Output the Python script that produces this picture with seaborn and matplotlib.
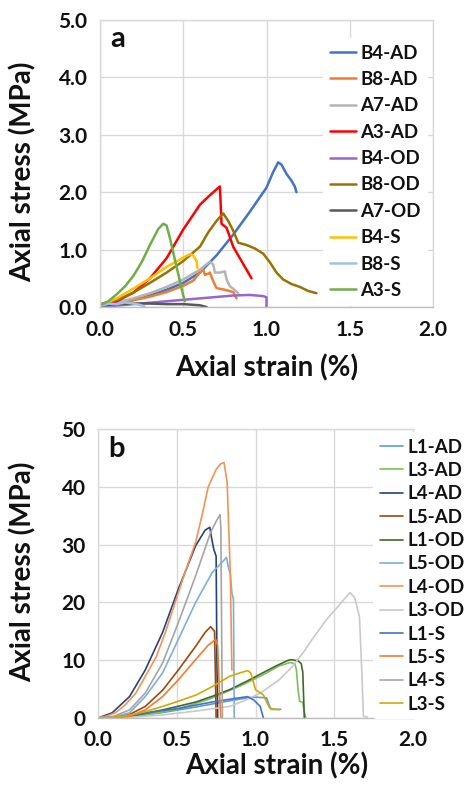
import matplotlib
matplotlib.use("Agg")
import matplotlib.pyplot as plt
import seaborn as sns
import pandas as pd

# ---------------- Panel a data (strain %, stress MPa) ----------------
a_names = ["B4-AD", "B8-AD", "A7-AD", "A3-AD", "B4-OD", "B8-OD", "A7-OD", "B4-S", "B8-S", "A3-S"]
a_colors = ["#4472C4", "#ED7D31", "#B4B4B4", "#FF0000", "#9966CC", "#997300", "#595959", "#FFC000", "#9DC3E6", "#70AD47"]

b4ad_x = [0, 0.1, 0.2, 0.3, 0.4, 0.5, 0.6, 0.7, 0.8, 0.9, 1.0, 1.04, 1.07, 1.09, 1.12, 1.15, 1.17, 1.18]
b4ad_y = [0.02, 0.06, 0.12, 0.2, 0.3, 0.42, 0.6, 0.9, 1.26, 1.66, 2.08, 2.35, 2.52, 2.48, 2.32, 2.2, 2.1, 2.0]
b8ad_x = [0, 0.1, 0.2, 0.3, 0.4, 0.5, 0.56, 0.6, 0.62, 0.63, 0.65, 0.66, 0.68, 0.7, 0.75, 0.8, 0.82]
b8ad_y = [0.03, 0.07, 0.12, 0.18, 0.26, 0.37, 0.46, 0.6, 0.66, 0.56, 0.58, 0.6, 0.45, 0.33, 0.3, 0.26, 0.15]
a7ad_x = [0, 0.1, 0.2, 0.3, 0.4, 0.5, 0.6, 0.66, 0.68, 0.69, 0.72, 0.75, 0.76, 0.78, 0.8, 0.83]
a7ad_y = [0.02, 0.08, 0.15, 0.24, 0.35, 0.48, 0.65, 0.79, 0.74, 0.6, 0.6, 0.62, 0.48, 0.36, 0.32, 0.24]
a3ad_x = [0, 0.1, 0.2, 0.3, 0.4, 0.5, 0.6, 0.65, 0.7, 0.72, 0.73, 0.76, 0.8, 0.86, 0.91]
a3ad_y = [0.02, 0.1, 0.25, 0.5, 0.85, 1.35, 1.78, 1.92, 2.05, 2.1, 1.45, 1.38, 1.05, 0.75, 0.5]
b4od_x = [0, 0.2, 0.4, 0.6, 0.8, 0.9, 0.98, 1.0, 1.0]
b4od_y = [0.0, 0.05, 0.1, 0.15, 0.2, 0.21, 0.19, 0.17, 0.0]
b8od_x = [0, 0.1, 0.2, 0.3, 0.4, 0.5, 0.6, 0.65, 0.7, 0.74, 0.77, 0.8, 0.83, 0.88, 0.93, 0.98, 1.02, 1.06, 1.1, 1.15, 1.2, 1.25, 1.3]
b8od_y = [0.05, 0.12, 0.25, 0.42, 0.6, 0.8, 1.05, 1.3, 1.5, 1.63, 1.5, 1.33, 1.12, 1.08, 1.02, 0.93, 0.78, 0.6, 0.48, 0.4, 0.35, 0.28, 0.24]
a7od_x = [0, 0.1, 0.2, 0.3, 0.4, 0.5, 0.6, 0.64]
a7od_y = [0.03, 0.05, 0.06, 0.06, 0.05, 0.05, 0.03, 0.0]
b4s_x = [0, 0.1, 0.2, 0.3, 0.4, 0.5, 0.54, 0.56, 0.58, 0.585]
b4s_y = [0.03, 0.15, 0.32, 0.5, 0.7, 0.86, 0.92, 0.9, 0.8, 0.68]
b8s_x = [0, 0.05, 0.1, 0.15, 0.2, 0.25, 0.27]
b8s_y = [0.02, 0.06, 0.05, 0.08, 0.06, 0.03, 0.0]
a3s_x = [0, 0.05, 0.1, 0.15, 0.2, 0.25, 0.3, 0.35, 0.38, 0.4, 0.42, 0.45, 0.48, 0.5, 0.51]
a3s_y = [0.03, 0.1, 0.22, 0.36, 0.54, 0.78, 1.08, 1.36, 1.45, 1.42, 1.2, 0.82, 0.45, 0.2, 0.1]

a_x = [b4ad_x, b8ad_x, a7ad_x, a3ad_x, b4od_x, b8od_x, a7od_x, b4s_x, b8s_x, a3s_x]
a_y = [b4ad_y, b8ad_y, a7ad_y, a3ad_y, b4od_y, b8od_y, a7od_y, b4s_y, b8s_y, a3s_y]

# ---------------- Panel b data ----------------
b_names = ["L1-AD", "L3-AD", "L4-AD", "L5-AD", "L1-OD", "L5-OD", "L4-OD", "L3-OD", "L1-S", "L5-S", "L4-S", "L3-S"]
b_colors = ["#5B9BD5", "#7CC05A", "#264478", "#9E480E", "#43682B", "#7CAFDD", "#F39256", "#C9C9C9", "#4472C4", "#ED7D31", "#A5A5A5", "#D4A800"]

l1ad_x = [0, 0.2, 0.4, 0.6, 0.8, 0.95, 1.0, 1.07, 1.09, 1.1, 1.16]
l1ad_y = [0, 0.3, 0.9, 1.8, 2.8, 3.5, 3.6, 3.5, 2.0, 1.5, 1.5]
l3ad_x = [0, 0.3, 0.5, 0.7, 0.9, 1.05, 1.15, 1.22, 1.25, 1.26, 1.27, 1.28, 1.3, 1.31, 1.32]
l3ad_y = [0, 0.5, 1.5, 3.2, 5.5, 7.5, 9.0, 9.6, 9.4, 8.3, 5.0, 2.9, 2.7, 1.0, 0]
l4ad_x = [0, 0.09, 0.2, 0.3, 0.41, 0.51, 0.62, 0.68, 0.71, 0.72, 0.735, 0.75, 0.755, 0.76]
l4ad_y = [0, 0.9, 3.7, 8.3, 14.8, 22.3, 29.8, 32.5, 33.0, 31.3, 29.2, 28.0, 10.0, 0]
l5ad_x = [0, 0.1, 0.2, 0.3, 0.41, 0.51, 0.62, 0.68, 0.715, 0.74, 0.745, 0.75]
l5ad_y = [0, 0.1, 0.6, 2.0, 4.8, 8.3, 12.4, 14.8, 15.8, 15.0, 8.0, 0]
l1od_x = [0, 0.2, 0.3, 0.41, 0.52, 0.625, 0.73, 0.835, 0.94, 1.045, 1.13, 1.2, 1.226, 1.27, 1.29, 1.3, 1.31]
l1od_y = [0, 0.3, 0.8, 1.4, 2.1, 2.8, 3.8, 4.9, 6.3, 7.8, 9.0, 9.9, 10.1, 9.9, 9.4, 8.0, 0]
l5od_x = [0, 0.1, 0.2, 0.3, 0.41, 0.51, 0.62, 0.726, 0.79, 0.816, 0.83, 0.84, 0.85, 0.86, 0.865]
l5od_y = [0, 0.2, 0.9, 3.7, 7.8, 13.6, 20.0, 25.2, 27.0, 27.8, 25.8, 25.0, 21.7, 20.5, 0]
l4od_x = [0, 0.05, 0.11, 0.17, 0.24, 0.3, 0.37, 0.43, 0.49, 0.55, 0.62, 0.66, 0.7, 0.75, 0.78, 0.8, 0.82, 0.84, 0.85]
l4od_y = [0, 0.3, 0.9, 2.2, 4.3, 7.2, 10.6, 15.0, 20.0, 25.0, 30.4, 35.0, 40.0, 43.0, 44.0, 44.2, 40.8, 25.0, 8.3]
l3od_x = [0, 0.2, 0.4, 0.62, 0.835, 0.93, 1.03, 1.15, 1.23, 1.3, 1.36, 1.45, 1.53, 1.6, 1.63, 1.66, 1.675, 1.685, 1.71]
l3od_y = [0, 0.1, 0.5, 1.2, 2.0, 3.0, 4.3, 6.6, 8.8, 11.2, 13.6, 17.0, 19.5, 21.7, 20.8, 17.5, 8.0, 0.3, 0.2]
l1s_x = [0, 0.1, 0.2, 0.31, 0.52, 0.73, 0.85, 0.95, 0.99, 1.03, 1.045, 1.05]
l1s_y = [0, 0.1, 0.4, 0.9, 1.7, 2.8, 3.3, 3.7, 3.1, 2.0, 0.5, 0]
l5s_x = [0, 0.1, 0.2, 0.3, 0.41, 0.51, 0.62, 0.7, 0.747, 0.76, 0.77, 0.78]
l5s_y = [0, 0.0, 0.3, 1.4, 3.7, 6.6, 10.1, 12.6, 13.6, 12.5, 5.0, 0]
l4s_x = [0, 0.1, 0.2, 0.3, 0.41, 0.51, 0.62, 0.715, 0.75, 0.775, 0.78, 0.785, 0.79]
l4s_y = [0, 0.3, 1.4, 4.3, 9.5, 16.5, 24.6, 32.1, 34.0, 35.2, 33.0, 15.0, 0]
l3s_x = [0, 0.1, 0.2, 0.3, 0.41, 0.52, 0.625, 0.73, 0.835, 0.9, 0.95, 0.97, 1.0, 1.05, 1.07, 1.09, 1.12, 1.15]
l3s_y = [0, 0.1, 0.5, 1.1, 2.0, 3.0, 4.0, 5.5, 7.2, 7.8, 8.2, 7.8, 4.9, 4.0, 2.8, 1.7, 1.5, 1.45]

b_x = [l1ad_x, l3ad_x, l4ad_x, l5ad_x, l1od_x, l5od_x, l4od_x, l3od_x, l1s_x, l5s_x, l4s_x, l3s_x]
b_y = [l1ad_y, l3ad_y, l4ad_y, l5ad_y, l1od_y, l5od_y, l4od_y, l3od_y, l1s_y, l5s_y, l4s_y, l3s_y]

x_ticks = [0.0, 0.5, 1.0, 1.5, 2.0]
a_yticks = [0.0, 1.0, 2.0, 3.0, 4.0, 5.0]
b_yticks = [0, 10, 20, 30, 40, 50]


def long_df(names, xs, ys):
    rows = []
    for n, xx, yy in zip(names, xs, ys):
        for i, (u, v) in enumerate(zip(xx, yy)):
            rows.append({"sample": n, "strain": u, "stress": v, "order": i})
    return pd.DataFrame(rows)


sns.set_theme(style="white")
plt.rcParams["font.family"] = ["Lato", "DejaVu Sans"]
plt.rcParams["font.weight"] = "bold"

fig = plt.figure(figsize=(4.66, 7.91), dpi=100)
W, H = 466, 791


def axes_px(l, t, r, b):
    return fig.add_axes([l / W, 1 - b / H, (r - l) / W, (b - t) / H])


ax_a = axes_px(100, 20, 433, 307)
ax_b = axes_px(98, 429, 413, 718)

GRID = "#D9D9D9"


def style_axes(ax, yticks, yfmt, ylim):
    ax.set_xlim(0, 2.0)
    ax.set_ylim(*ylim)
    ax.set_xticks(x_ticks)
    ax.set_xticklabels([f"{t:.1f}" for t in x_ticks])
    ax.set_yticks(yticks)
    ax.set_yticklabels([yfmt(t) for t in yticks])
    ax.grid(True, color=GRID, linewidth=1.0)
    ax.set_axisbelow(True)
    for s in ["left", "top", "right"]:
        ax.spines[s].set_color(GRID)
        ax.spines[s].set_linewidth(1.0)
    ax.spines["bottom"].set_color("#BFBFBF")
    ax.spines["bottom"].set_linewidth(1.0)
    ax.tick_params(axis="both", length=0, labelsize=15, colors="#111111", pad=9)
    for lab in ax.get_xticklabels() + ax.get_yticklabels():
        lab.set_fontweight("bold")


def draw(ax, names, colors, xs, ys, lw):
    df = long_df(names, xs, ys)
    sns.lineplot(data=df, x="strain", y="stress", hue="sample", hue_order=names,
                 palette=dict(zip(names, colors)), sort=False, estimator=None,
                 units="sample", linewidth=lw, ax=ax, legend=True)


draw(ax_a, a_names, a_colors, a_x, a_y, 1.8)
draw(ax_b, b_names, b_colors, b_x, b_y, 1.2)

style_axes(ax_a, a_yticks, lambda t: f"{t:.1f}", (0, 5.0))
style_axes(ax_b, b_yticks, lambda t: f"{t:d}", (0, 50))

for ax in (ax_a, ax_b):
    ax.set_xlabel("Axial strain (%)", fontsize=20, fontweight="bold", color="#111111")
    ax.set_ylabel("Axial stress (MPa)", fontsize=20, fontweight="bold", color="#111111")

ax_a.xaxis.set_label_coords(0.5, -0.165)
ax_a.yaxis.set_label_coords(-0.19, 0.47)
ax_b.xaxis.set_label_coords(0.568, -0.118)
ax_b.yaxis.set_label_coords(-0.194, 0.505)

ax_a.text(0.03, 0.906, "a", transform=ax_a.transAxes, fontsize=21, fontweight="bold", va="baseline", color="#111111")
ax_b.text(0.032, 0.903, "b", transform=ax_b.transAxes, fontsize=21, fontweight="bold", va="baseline", color="#111111")

# legends
h, l = ax_a.get_legend_handles_labels()
leg_a = ax_a.legend(h, l, loc="upper left", bbox_to_anchor=((323 - 100) / 333, (307 - 38) / 287),
                    frameon=True, facecolor="white", edgecolor="none", framealpha=1,
                    fontsize=13.5, handlelength=1.4, handletextpad=0.25, labelspacing=0.50,
                    borderpad=0.35, borderaxespad=0)
h, l = ax_b.get_legend_handles_labels()
leg_b = ax_b.legend(h, l, loc="upper left", bbox_to_anchor=((373 - 98) / 315, (718 - 432) / 289),
                    frameon=True, facecolor="white", edgecolor="none", framealpha=1,
                    fontsize=13.5, handlelength=1.25, handletextpad=0.25, labelspacing=0.34,
                    borderpad=0.35, borderaxespad=0)
for leg in (leg_a, leg_b):
    for t in leg.get_texts():
        t.set_fontweight("bold")
        t.set_color("#111111")

fig.savefig("out.png", dpi=100)
